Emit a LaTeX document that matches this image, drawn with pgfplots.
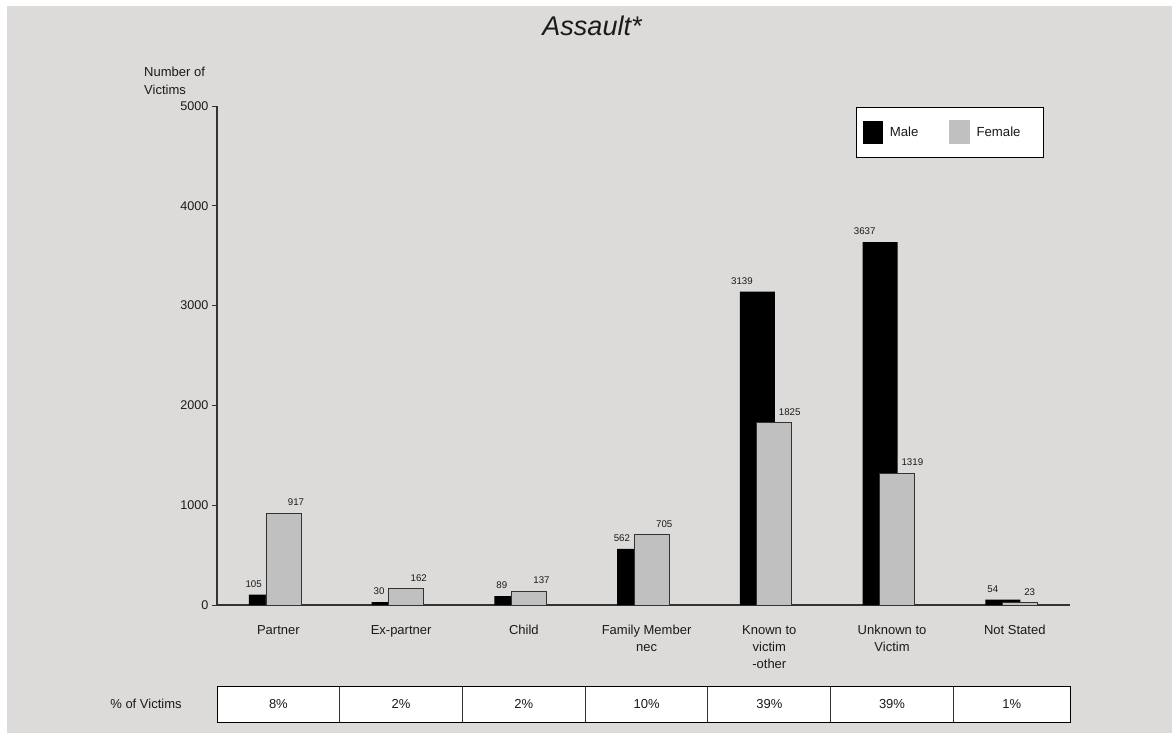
\documentclass[border=0pt]{standalone}
\usepackage{pgfplots}
\pgfplotsset{compat=1.18}
\usepackage{fontspec}
\setmainfont{Liberation Sans}
\definecolor{bg}{HTML}{DCDBD9}
\definecolor{fem}{HTML}{C0C0C0}
\definecolor{axgray}{HTML}{333333}
\definecolor{txt}{HTML}{1A1A1A}
\begin{document}
\begin{tikzpicture}
\begin{scope}[x=1pt,y=1pt]
\fill[white] (0,0) rectangle (1172,-733);
\fill[bg] (7,-6) rectangle (1172,-733);
\end{scope}
\begin{axis}[
  at={(217pt,-605pt)}, anchor=south west,
  scale only axis, width=853pt, height=499pt,
  xmin=-0.5, xmax=6.45, ymin=0, ymax=5000,
  axis x line*=bottom, axis y line*=left,
  axis line style={axgray, line width=1.1pt, -},
  ytick={0,1000,2000,3000,4000,5000},
  xtick={0,1,2,3,4,5,6},
  xticklabels={Partner,Ex-partner,Child,{Family Member\\nec},{Known to\\victim\\-other},{Unknown to\\Victim},Not Stated},
  x tick style={draw=none},
  y tick style={draw=axgray, line width=1pt},
  tick align=outside, major tick length=5pt,
  xticklabel style={align=center, font=\fontsize{13}{17}\selectfont, text=txt, yshift=-12pt},
  yticklabel style={font=\fontsize{12.6}{15}\selectfont, text=txt},
  /pgf/number format/assume math mode=true,
  /pgf/number format/1000 sep={},
  scaled y ticks=false,
  ybar, bar width=35pt,
  clip=false,
  legend columns=2,
  legend style={at={(0.749,0.998)}, anchor=north west, draw=black, line width=0.8pt, fill=white,
    font=\fontsize{13.2}{15}\selectfont, text=txt, inner xsep=7pt, inner ysep=13pt,
    /tikz/every even column/.append style={column sep=28.5pt},
    /tikz/every odd column/.append style={column sep=4.6pt}},
]
\addplot[fill=black, draw=none, bar shift=-11.9pt, nodes near coords,
  nodes near coords style={font=\fontsize{9.7}{11}\selectfont, text=txt, anchor=south east, inner sep=0pt, xshift=-4.5pt, yshift=7pt},
  legend image code/.code={\fill[black] (0pt,-11.5pt) rectangle (20pt,11.5pt);}]
  coordinates {(0,105) (1,30) (2,89) (3,562) (4,3139) (5,3637) (6,54)};
\addplot[fill=fem, draw=axgray, line width=0.9pt, bar shift=5.1pt, nodes near coords,
  nodes near coords style={font=\fontsize{9.7}{11}\selectfont, text=txt, anchor=south west, inner sep=0pt, xshift=4pt, yshift=7pt},
  legend image code/.code={\fill[fem] (0pt,-11.5pt) rectangle (20pt,11.5pt);}]
  coordinates {(0,917) (1,162) (2,137) (3,705) (4,1825) (5,1319) (6,23)};
\legend{Male,Female\hspace*{14pt}}
\end{axis}
\begin{scope}[x=1pt,y=1pt]
\node[font=\fontsize{27}{30}\selectfont\itshape, anchor=base, text=txt] at (592,-36) {Assault*};
\node[font=\fontsize{13}{15}\selectfont, anchor=base west, text=txt, inner sep=0pt] at (144,-77) {Number of};
\node[font=\fontsize{13}{15}\selectfont, anchor=base west, text=txt, inner sep=0pt] at (144,-95) {Victims};
\fill[white] (217,-686) rectangle (1070,-722);
\foreach \x in {339.7,462.5,585.2,707.9,830.6,953.4} \draw[axgray, line width=0.9pt] (\x,-686) -- (\x,-722);
\draw[black, line width=1pt] (217,-686) rectangle (1070,-722);
\foreach \x/\t in {278.4/8\%,401.1/2\%,523.8/2\%,646.6/10\%,769.3/39\%,892/39\%,1011.7/1\%}
  \node[font=\fontsize{13}{15}\selectfont, text=txt] at (\x,-704) {\t};
\node[font=\fontsize{13}{15}\selectfont, text=txt] at (146,-704) {\% of Victims};
\end{scope}
\end{tikzpicture}
\end{document}
